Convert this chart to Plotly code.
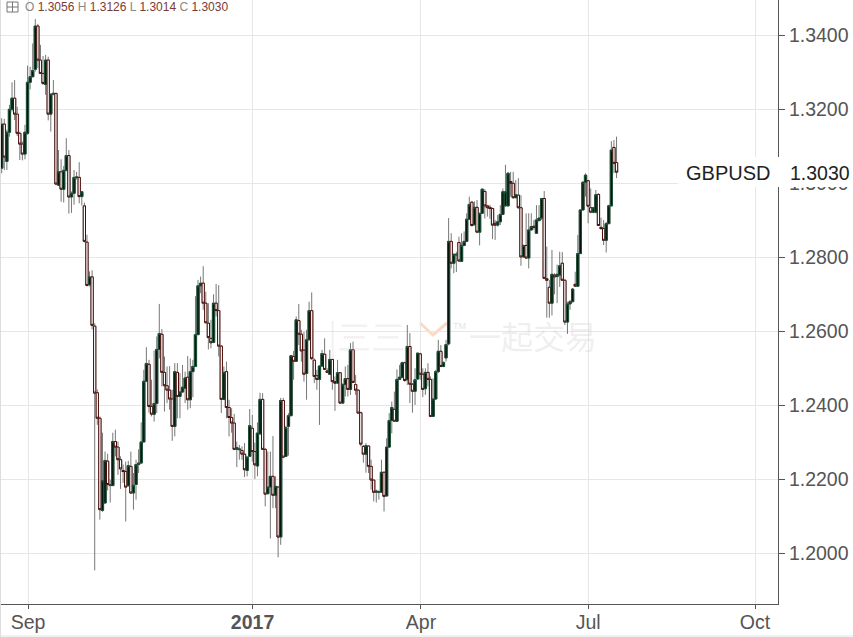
import plotly.graph_objects as go
import numpy as np

# Daily GBPUSD prices, in units of 0.0001
open_pips = [
13041,13160,13059,13138,13200,13230,13187,13135,13106,13079,
13135,13273,13288,13308,13425,13333,13297,13267,13333,13187,
13241,13243,12995,13031,12984,13035,13075,12963,12973,13016,
13016,12964,12939,12841,12726,12747,12614,12434,12365,12116,
12136,12249,12183,12183,12302,12287,12253,12224,12221,12183,
12235,12163,12186,12240,12244,12301,12465,12511,12397,12376,
12405,12551,12592,12489,12453,12441,12417,12343,12489,12424,
12436,12446,12476,12415,12491,12505,12591,12723,12730,12676,
12622,12581,12570,12676,12656,12560,12416,12491,12394,12367,
12352,12281,12280,12278,12268,12224,12262,12338,12275,12236,
12323,12416,12281,12161,12179,12208,12157,12179,12044,12413,
12262,12343,12372,12532,12519,12629,12592,12549,12486,12577,
12656,12522,12480,12470,12506,12538,12493,12484,12524,12464,
12460,12488,12406,12456,12472,12443,12550,12456,12441,12380,
12289,12268,12290,12235,12198,12165,12165,12165,12219,12155,
12287,12359,12389,12357,12470,12476,12515,12469,12559,12457,
12438,12471,12539,12484,12445,12489,12470,12370,12417,12491,
12546,12505,12528,12566,12843,12784,12806,12840,12789,12832,
12843,12903,12949,12888,12935,12868,12919,12978,12939,12935,
12932,12892,12887,12896,12916,12939,12939,13005,13000,12961,
12968,12934,12801,12832,12798,12874,12884,12865,12899,12906,
12959,12742,12719,12676,12752,12748,12752,12784,12738,12625,
12674,12680,12727,12722,12810,12928,13003,13007,12934,12922,
12922,12970,12881,12878,12846,12891,12939,13097,13056]
high_pips = [
13176,13174,13145,13212,13273,13279,13207,13140,13113,13158,
13318,13315,13378,13444,13431,13374,13344,13347,13342,13241,
13279,13243,13090,13065,13047,13122,13090,12978,13036,13031,
13057,12978,12948,12861,12762,12765,12622,12443,12370,12326,
12275,12269,12199,12326,12334,12302,12262,12240,12248,12250,
12275,12217,12253,12281,12354,12496,12557,12523,12469,12548,
12586,12674,12606,12532,12505,12506,12442,12514,12514,12487,
12509,12491,12533,12527,12523,12695,12739,12748,12776,12707,
12676,12631,12700,12728,12725,12563,12505,12518,12415,12392,
12377,12302,12293,12289,12298,12262,12390,12374,12299,12354,
12434,12433,12284,12275,12275,12317,12208,12181,12420,12420,
12345,12379,12536,12547,12640,12674,12604,12599,12604,12680,
12705,12527,12496,12509,12550,12581,12500,12550,12525,12478,
12523,12489,12460,12505,12509,12568,12572,12482,12442,12383,
12293,12298,12291,12253,12199,12172,12170,12253,12221,12311,
12379,12410,12437,12497,12509,12518,12518,12617,12595,12460,
12500,12542,12542,12500,12500,12514,12478,12473,12496,12577,
12563,12518,12577,12906,12865,12811,12815,12856,12865,12870,
12919,12964,12951,12951,12955,12919,12987,12984,12942,12942,
12934,12901,12914,12941,12986,13050,13031,13031,13031,13009,
13014,12968,12834,12919,12919,12919,12901,12941,12941,12960,
12979,12829,12739,12820,12757,12780,12815,12814,12740,12680,
12685,12717,12761,12860,12930,13005,13027,13009,12986,12934,
12982,12973,12907,12901,12896,12942,13114,13117,13126]
low_pips = [
13027,13036,13036,13126,13194,13171,13128,13063,13062,13065,
13131,13254,13286,13302,13311,13296,13266,13239,13170,13140,
13238,12995,12993,12950,12948,13032,12918,12920,12942,13010,
12946,12940,12840,12721,12721,12605,11954,12347,12091,12112,
12134,12170,12137,12182,12262,12212,12174,12190,12086,12180,
12161,12118,12145,12217,12242,12300,12464,12380,12370,12356,
12379,12527,12451,12383,12406,12388,12304,12316,12365,12365,
12433,12406,12388,12392,12422,12504,12590,12703,12658,12622,
12551,12554,12568,12640,12532,12379,12414,12365,12316,12326,
12279,12233,12253,12253,12206,12208,12260,12248,12201,12208,
12320,12279,12127,12160,12040,12122,12122,11989,12023,12257,
12262,12264,12370,12469,12518,12563,12518,12464,12415,12576,
12523,12460,12442,12347,12505,12496,12487,12482,12442,12385,
12458,12404,12404,12424,12424,12428,12460,12428,12378,12289,
12245,12218,12217,12172,12140,12137,12145,12163,12113,12154,
12286,12324,12356,12356,12469,12473,12464,12455,12406,12380,
12401,12469,12469,12422,12428,12451,12368,12369,12415,12487,
12503,12503,12518,12562,12770,12757,12760,12788,12788,12830,
12841,12901,12883,12886,12865,12832,12917,12905,12910,12904,
12849,12847,12883,12887,12914,12937,12937,12964,12959,12960,
12932,12777,12800,12797,12770,12873,12874,12864,12899,12901,
12741,12637,12637,12643,12700,12676,12720,12736,12617,12593,
12658,12678,12720,12721,12809,12926,12964,12892,12919,12919,
12919,12885,12874,12833,12813,12889,12937,13027,13014]
close_pips = [
13160,13071,13138,13200,13230,13187,13135,13106,13079,13138,
13273,13288,13305,13425,13333,13297,13270,13333,13187,13241,
13243,12998,13031,12984,13035,13075,12963,12973,13016,13017,
12964,12977,12843,12724,12747,12616,12433,12365,12118,12196,
12251,12186,12185,12302,12287,12253,12228,12221,12179,12237,
12163,12184,12240,12244,12301,12465,12513,12397,12376,12405,
12551,12594,12489,12453,12441,12417,12343,12491,12424,12436,
12449,12474,12415,12491,12505,12591,12723,12730,12676,12623,
12583,12569,12676,12656,12560,12416,12489,12394,12367,12352,
12281,12286,12282,12268,12226,12260,12345,12275,12239,12325,
12416,12281,12160,12179,12208,12157,12181,12044,12413,12260,
12340,12372,12534,12519,12631,12592,12547,12484,12577,12656,
12526,12478,12470,12506,12540,12497,12489,12524,12464,12460,
12488,12406,12456,12472,12443,12550,12462,12441,12379,12295,
12268,12291,12235,12198,12165,12168,12167,12219,12154,12287,
12359,12394,12357,12470,12476,12515,12467,12559,12457,12438,
12469,12541,12484,12443,12489,12470,12370,12417,12491,12546,
12505,12516,12564,12843,12784,12808,12808,12790,12832,12843,
12903,12943,12886,12935,12868,12919,12984,12939,12934,12932,
12887,12887,12896,12916,12977,12977,13027,13000,12961,12969,
12934,12801,12832,12798,12874,12883,12881,12901,12906,12959,
12743,12738,12676,12754,12747,12754,12777,12738,12625,12674,
12680,12714,12722,12810,12928,13003,13022,12938,12922,12934,
12969,12886,12878,12846,12891,12939,13090,13054,13030]
tick_bars = [10.2, 97.1, 162.3, 227, 291.6]
tick_labels = ["Sep", "<b>2017</b>", "Apr", "Jul", "Oct"]
price_ticks = [1.20, 1.22, 1.24, 1.26, 1.28, 1.30, 1.32, 1.34]
symbol = "GBPUSD"
last_ohlc = ["1.3056", "1.3126", "1.3014", "1.3030"]

o = np.array(open_pips) / 10000
h = np.array(high_pips) / 10000
l = np.array(low_pips) / 10000
c = np.array(close_pips) / 10000
x = np.arange(len(o))
body_hi = np.maximum(o, c)
body_lo = np.minimum(o, c)

GREY = "#777777"
fig = go.Figure()
fig.add_trace(go.Candlestick(
    x=x, open=o, high=h, low=l, close=c, whiskerwidth=0, showlegend=False,
    increasing=dict(line=dict(color=GREY, width=1), fillcolor=GREY),
    decreasing=dict(line=dict(color=GREY, width=1), fillcolor=GREY)))
fig.add_trace(go.Candlestick(
    x=x, open=o, high=body_hi, low=body_lo, close=c, whiskerwidth=0, showlegend=False,
    increasing=dict(line=dict(color="#1c5138", width=1), fillcolor="#03150c"),
    decreasing=dict(line=dict(color="#4a0c08", width=1), fillcolor="#ffffff")))

PLOT_W, PLOT_H = 778, 604
px = lambda v: v / PLOT_W
py = lambda v: 1 - v / PLOT_H
shapes = [
    dict(type="rect", xref="paper", yref="paper", x0=px(7), x1=px(18), y0=py(2), y1=py(12),
         line=dict(color="#777777", width=1), fillcolor="white"),
    dict(type="line", xref="paper", yref="paper", x0=px(7), x1=px(18), y0=py(7), y1=py(7),
         line=dict(color="#777777", width=1)),
    dict(type="line", xref="paper", yref="paper", x0=px(12.5), x1=px(12.5), y0=py(2), y1=py(12),
         line=dict(color="#777777", width=1)),
    dict(type="path", xref="paper", yref="paper", layer="below",
         path=f"M {px(420)},{py(323)} L {px(433)},{py(335)} L {px(447)},{py(323)}",
         line=dict(color="#fbd9c6", width=3)),
    dict(type="rect", xref="paper", yref="paper", x0=px(678), x1=px(853), y0=py(187), y1=py(157),
         line=dict(width=0), fillcolor="white"),
    dict(type="line", xref="paper", yref="paper", x0=px(0.5), x1=px(0.5), y0=py(637), y1=py(0),
         line=dict(color="#dddddd", width=1)),
    dict(type="line", xref="paper", yref="paper", x0=0, x1=px(853), y0=py(636), y1=py(636),
         line=dict(color="#e4e4e4", width=1)),
]
ohlc_text = " ".join(
    f'<span style="color:#888888">{k}</span> <span style="color:#7a3a34">{v}</span>'
    for k, v in zip("OHLC", last_ohlc))
annotations = [
    dict(xref="paper", yref="paper", x=px(23), y=py(7), xanchor="left", yanchor="middle",
         text=ohlc_text, showarrow=False, font=dict(family="Liberation Sans", size=12)),
    dict(xref="paper", yref="paper", x=px(684), y=py(173), xanchor="left", yanchor="middle",
         text=symbol, showarrow=False, font=dict(family="Liberation Sans", size=20, color="#222222")),
    dict(xref="paper", yref="paper", x=px(788), y=py(173), xanchor="left", yanchor="middle",
         text=last_ohlc[3], showarrow=False, font=dict(family="Liberation Sans", size=19.5, color="#222222")),
    dict(xref="paper", yref="paper", x=px(533), y=py(335), xanchor="center", yanchor="middle",
         text="一起交易", showarrow=False,
         font=dict(family="Noto Sans CJK SC", size=32, color="rgba(200,200,200,0.28)")),
    dict(xref="paper", yref="paper", x=px(366), y=py(335), xanchor="center", yanchor="middle",
         text="|三三", showarrow=False,
         font=dict(family="Noto Sans CJK SC", size=34, color="rgba(200,200,200,0.24)")),
    dict(xref="paper", yref="paper", x=px(460), y=py(326), xanchor="center", yanchor="middle",
         text="TM", showarrow=False,
         font=dict(family="Liberation Sans", size=9, color="rgba(200,200,200,0.5)")),
]

fig.update_layout(
    width=853, height=637, margin=dict(l=0, r=75, t=0, b=33),
    plot_bgcolor="white", paper_bgcolor="white", showlegend=False,
    boxmode="overlay", boxgap=0.12, boxgroupgap=0,
    shapes=shapes, annotations=annotations,
    xaxis=dict(range=[-0.66, 300.5], tickmode="array", tickvals=tick_bars, ticktext=tick_labels,
               rangeslider=dict(visible=False), showgrid=True, gridcolor="#e6e6e6", gridwidth=1,
               showline=True, linecolor="#555555", linewidth=1, ticks="outside", ticklen=4,
               tickcolor="#555555", zeroline=False, ticklabelstandoff=-3,
               tickfont=dict(family="Liberation Sans", size=19.5, color="#555555")),
    yaxis=dict(side="right", range=[1.1863, 1.34954], tickmode="array", tickvals=price_ticks,
               ticktext=[f"{v:.4f}" for v in price_ticks], showgrid=True, gridcolor="#e6e6e6",
               gridwidth=1, showline=True, linecolor="#555555", linewidth=1, ticks="outside",
               ticklen=6, tickcolor="#555555", zeroline=False,
               tickfont=dict(family="Liberation Sans", size=19.5, color="#555555")),
)
fig.write_html("out.html", config=dict(displayModeBar=False), post_script=(
    "document.documentElement.style.overflow='hidden';"
    "document.body.style.margin='0';document.body.style.overflow='hidden';"))
